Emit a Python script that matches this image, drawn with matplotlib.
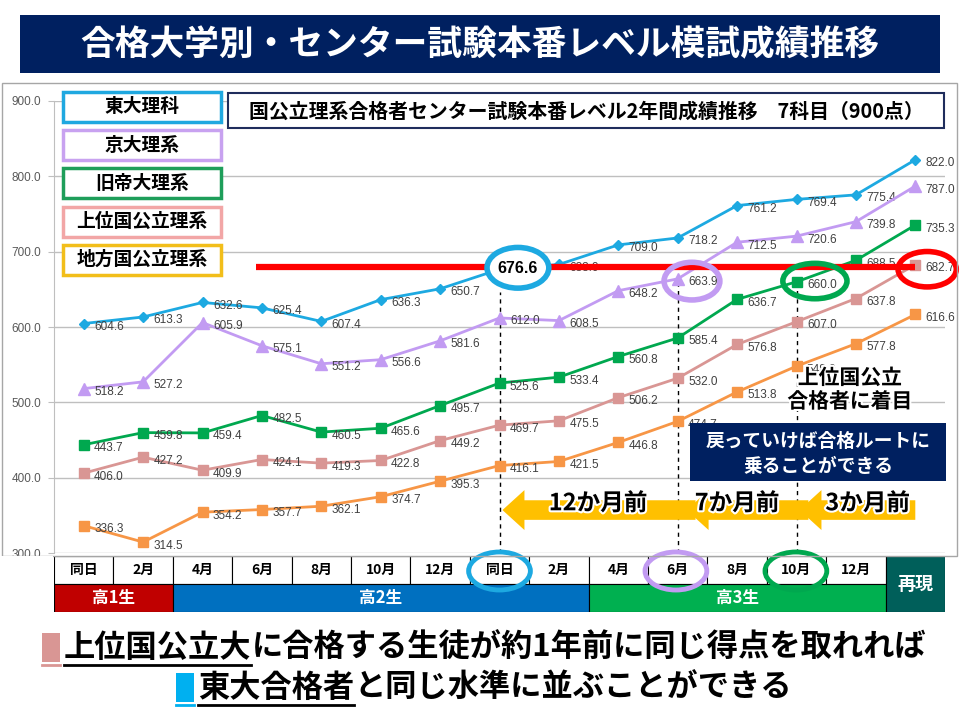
import numpy as np
import matplotlib
matplotlib.use('Agg')
import matplotlib.pyplot as plt
import matplotlib.patheffects as pe
from matplotlib.patches import Rectangle, Ellipse, FancyArrow

plt.rcParams['font.family'] = ['Noto Sans CJK JP', 'DejaVu Sans']

# --- data ---
months = ['同日', '2月', '4月', '6月', '8月', '10月', '12月',
          '同日', '2月', '4月', '6月', '8月', '10月', '12月']
last_label = '再現'
grades = ['高1生', '高2生', '高3生']
grade_spans = [(0, 1), (2, 8), (9, 13)]

names = ['東大理科', '京大理系', '旧帝大理系', '上位国公立理系', '地方国公立理系']
todai = [604.6, 613.3, 632.6, 625.4, 607.4, 636.3, 650.7, 676.6, 683.0, 709.0, 718.2, 761.2, 769.4, 775.4, 822.0]
kyodai = [518.2, 527.2, 605.9, 575.1, 551.2, 556.6, 581.6, 612.0, 608.5, 648.2, 663.9, 712.5, 720.6, 739.8, 787.0]
kyutei = [443.7, 459.8, 459.4, 482.5, 460.5, 465.6, 495.7, 525.6, 533.4, 560.8, 585.4, 636.7, 660.0, 688.5, 735.3]
joui = [406.0, 427.2, 409.9, 424.1, 419.3, 422.8, 449.2, 469.7, 475.5, 506.2, 532.0, 576.8, 607.0, 637.8, 682.7]
chiho = [336.3, 314.5, 354.2, 357.7, 362.1, 374.7, 395.3, 416.1, 421.5, 446.8, 474.7, 513.8, 548.0, 577.8, 616.6]

target_level = 680
arrow_labels = ['12か月前', '7か月前', '3か月前']

# --- styles ---
line_cols = ['#1DA9E1', '#C29BF2', '#00A84F', '#D99694', '#F79646']
box_cols = ['#1FA8E0', '#C8A2F0', '#1E9E5A', '#F2A6A6', '#F2BE1A']
markers = [('D', 5.5), ('^', 8.5), ('s', 7.5), ('s', 7.5), ('s', 7.5)]
navy = '#002060'
grade_cols = ['#C00000', '#0070C0', '#00B050']
white_edge = [pe.withStroke(linewidth=3, foreground='white')]
num_font = 'Liberation Sans'

fig = plt.figure(figsize=(9.6, 7.2), dpi=100)

# main chart
ax = fig.add_axes([54/960, 1-553/720, 891/960, 452/720])
x = np.arange(len(todai))
ax.set_xlim(-0.5, 14.5)
ax.set_ylim(300, 900)
yt = np.arange(300, 901, 100)
ax.set_yticks(yt)
ax.set_yticklabels([f'{v:.1f}' for v in yt], fontsize=8.5, color='#595959', family=num_font)
ax.set_xticks([])
ax.tick_params(axis='y', length=4, color='#BFBFBF', pad=5)
ax.grid(axis='y', color='#BFBFBF', lw=1)
ax.set_axisbelow(True)
for s in ['top', 'right', 'bottom']:
    ax.spines[s].set_visible(False)
ax.spines['left'].set_color('#BFBFBF')

all_series = [todai, kyodai, kyutei, joui, chiho]
for k, vals in enumerate(all_series):
    mk, ms = markers[k]
    ax.plot(x, vals, color=line_cols[k], lw=2, marker=mk, ms=ms, zorder=3)
    for i, v in enumerate(vals):
        if k == 0 and i == 7:
            continue
        ax.annotate(f'{v:.1f}', (i, v), xytext=(7.5, -2.5), textcoords='offset points',
                    fontsize=8.5, color='#404040', family=num_font,
                    ha='left', va='center', zorder=3)

# dashed guides at the highlighted months
ax.vlines([7, 10, 12], 300, [todai[7] - 30, kyodai[10], kyutei[12]],
          colors='black', linestyles=(0, (3, 3)), lw=1, zorder=2.5)

# red target line
ax.plot([2.9, 14.0], [target_level, target_level], color='#FF0000', lw=4.5,
        solid_capstyle='butt', zorder=4)

# highlight ellipses
ax.add_patch(Ellipse((7.31, todai[7] + 2), 1.04, 54, facecolor='white',
                     edgecolor=line_cols[0], lw=4, zorder=5))
ax.text(7.31, todai[7] + 1, f'{todai[7]:.1f}', ha='center', va='center',
        fontsize=11.5, fontweight='bold', family='Liberation Sans', zorder=6)
ax.add_patch(Ellipse((10.24, kyodai[10] - 3), 0.94, 50, fill=False,
                     edgecolor=line_cols[1], lw=4, zorder=5))
ax.add_patch(Ellipse((12.31, kyutei[12] + 1), 1.08, 47, fill=False,
                     edgecolor=line_cols[2], lw=4, zorder=5))
ax.add_patch(Ellipse((14.2, joui[14] - 6), 0.98, 47, fill=False,
                     edgecolor='#FF0000', lw=4, zorder=5, clip_on=False))

# yellow arrows
tips = [7.05, 10.15, 12.05]
tails = [10.3, 12.2, 14.0]
for tip, tail in zip(tips, tails):
    ax.add_patch(FancyArrow(tail, 357, tip - tail, 0, width=26, head_width=53,
                            head_length=0.37, length_includes_head=True,
                            color='#FFC000', lw=0, zorder=4))
for lab, cx in zip(arrow_labels, [8.66, 11.0, 13.2]):
    ax.text(cx, 366, lab, ha='center', va='center', fontsize=17, fontweight='bold',
            path_effects=white_edge, zorder=6)

ax.text(12.9, 517, '上位国公立\n合格者に着目', ha='center', va='center', fontsize=15,
        fontweight='bold', linespacing=1.15, path_effects=white_edge, zorder=7)

# bottom table
tb = fig.add_axes([54/960, 1-612/720, 891/960, 56/720], zorder=3)
tb.set_xlim(-0.5, 14.5)
tb.set_ylim(56, 0)
tb.axis('off')
for i, m in enumerate(months):
    tb.add_patch(Rectangle((i - 0.5, 0), 1, 28, facecolor='white', edgecolor='black', lw=0.8))
    tb.text(i, 14, m, ha='center', va='center', fontsize=10, fontweight='bold')
for g, (a, b), col in zip(grades, grade_spans, grade_cols):
    tb.add_patch(Rectangle((a - 0.5, 28), b - a + 1, 28, facecolor=col, edgecolor='black', lw=0.8))
    tb.text((a + b) / 2, 42, g, ha='center', va='center', color='white',
            fontsize=12, fontweight='bold')
tb.add_patch(Rectangle((13.5, 0), 1, 56, facecolor='#005F5A', edgecolor='black', lw=0.8))
tb.text(14, 29, last_label, ha='center', va='center', color='white',
        fontsize=13, fontweight='bold')
for cx, col in zip([7, 9.97, 11.99], line_cols[:3]):
    tb.add_patch(Ellipse((cx, 15), 1.04, 38, fill=False, edgecolor=col, lw=3.5,
                         clip_on=False, zorder=5))

# overlay in pixel coords
ov = fig.add_axes([0, 0, 1, 1], zorder=5)
ov.set_xlim(0, 960)
ov.set_ylim(720, 0)
ov.axis('off')

ov.add_patch(Rectangle((2, 83), 955, 473, fill=False, edgecolor='#A6A6A6', lw=1))
ov.add_patch(Rectangle((0, 556), 53, 30, facecolor='white', lw=0))

ov.add_patch(Rectangle((20, 15), 920, 58, facecolor=navy, lw=0))
ov.text(480, 45, '合格大学別・センター試験本番レベル模試成績推移', ha='center', va='center',
        color='white', fontsize=25, fontweight='bold')

ov.add_patch(Rectangle((228, 93), 716, 35, facecolor='white', edgecolor='#1F2D5C', lw=1.5))
ov.text(586, 111, '国公立理系合格者センター試験本番レベル2年間成績推移　7科目（900点）',
        ha='center', va='center', fontsize=14.3, fontweight='bold')

for k, nm in enumerate(names):
    y0 = 92 + k * 38.2
    ov.add_patch(Rectangle((63, y0), 158, 30, facecolor='white', edgecolor=box_cols[k], lw=2.5))
    ov.text(142, y0 + 15, nm, ha='center', va='center', fontsize=13.5, fontweight='bold')

ov.add_patch(Rectangle((690, 423), 256, 58, facecolor=navy, lw=0))
ov.text(818, 441, '戻っていけば合格ルートに', ha='center', va='center', color='white',
        fontsize=13.5, fontweight='bold')
ov.text(818, 467, '乗ることができる', ha='center', va='center', color='white',
        fontsize=13.5, fontweight='bold')

# bottom message with underlined parts
fig.canvas.draw()
rend = fig.canvas.get_renderer()


def message(y, runs, sq_col, cx=484, fs=22.5):
    widths = []
    for s, ul in runs:
        t = ov.text(0, y, s, fontsize=fs, fontweight='bold', va='center', ha='left')
        widths.append(t.get_window_extent(renderer=rend).width)
        t.remove()
    sq, gap = 18, 4
    x0 = cx - (sq + gap + sum(widths)) / 2
    ov.add_patch(Rectangle((x0, y - 15), sq, 29, facecolor=sq_col, lw=0))
    ov.plot([x0, x0 + sq], [y + 17, y + 17], color=sq_col, lw=2)
    xx = x0 + sq + gap
    for (s, ul), w in zip(runs, widths):
        ov.text(xx, y, s, fontsize=fs, fontweight='bold', va='center', ha='left')
        if ul:
            ov.plot([xx, xx + w], [y + 17, y + 17], color='black', lw=2)
        xx += w


message(648, [('上位国公立大', True), ('に合格する生徒が約1年前に同じ得点を取れれば', False)], '#D99694')
message(688, [('東大合格者', True), ('と同じ水準に並ぶことができる', False)], '#00B0F0')

fig.savefig('out.png', dpi=100)
